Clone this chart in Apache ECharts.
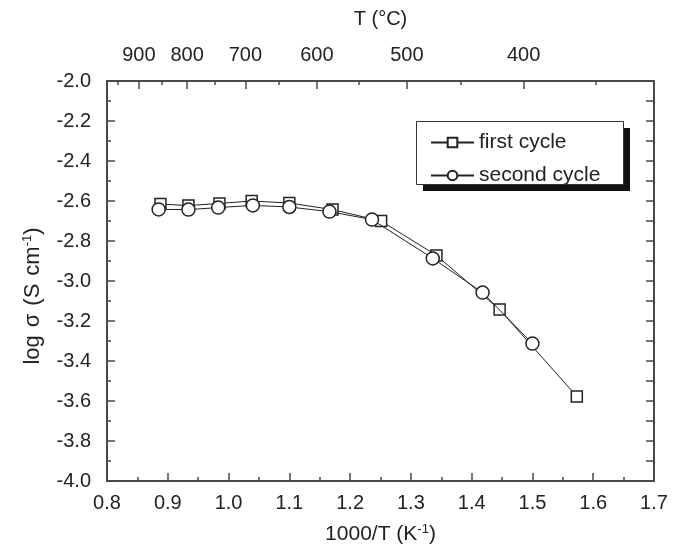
<!DOCTYPE html>
<html>
<head>
<meta charset="utf-8">
<script src="https://cdn.jsdelivr.net/npm/echarts@6/dist/echarts.min.js"></script>
<style>html,body{margin:0;padding:0;background:#fff}#c{width:681px;height:554px}</style>
</head>
<body>
<div id="c"></div>
<script>
// Data
var firstX  = [0.888, 0.934, 0.985, 1.038, 1.100, 1.171, 1.251, 1.342, 1.446, 1.573];
var firstY  = [-2.615, -2.623, -2.612, -2.600, -2.610, -2.643, -2.700, -2.872, -3.143, -3.577];
var secondX = [0.885, 0.934, 0.983, 1.040, 1.100, 1.166, 1.236, 1.336, 1.418, 1.500];
var secondY = [-2.642, -2.643, -2.633, -2.622, -2.630, -2.653, -2.693, -2.887, -3.058, -3.313];
// Top axis (temperature, °C) tick labels and minor ticks
var tempLabels = [900, 800, 700, 600, 500, 400];
var tempMinor  = [950, 900, 850, 800, 750, 700, 650, 600, 550, 500, 450, 400, 350];

function toInv(t){ return 1000 / (t + 273.15); }
function pairs(xs, ys){ return xs.map(function(x,i){ return [x, ys[i]]; }); }

var FONT = "'Liberation Sans', Arial, Helvetica, sans-serif";
var AX = '#4a4a4a';
var TXT = '#222';

var chart = echarts.init(document.getElementById('c'), null, {renderer:'canvas'});
chart.setOption({
  animation: false,
  backgroundColor: '#fff',
  textStyle: {fontFamily: FONT},
  grid: {left: 107, top: 81, width: 547, height: 400, containLabel: false},
  graphic: [
    {type: 'rect', z: 5, shape: {x: 423, y: 128, width: 207, height: 63}, style: {fill: '#111'}},
    {type: 'rect', z: 6, shape: {x: 416.5, y: 121.5, width: 207, height: 63}, style: {fill: '#fff', stroke: '#333', lineWidth: 1}}
  ],
  legend: {
    orient: 'vertical', left: 416, top: 121, z: 10,
    itemWidth: 43, itemHeight: 12, itemGap: 12,
    padding: [11, 0, 0, 14],
    textStyle: {fontSize: 21, color: TXT, fontFamily: FONT, lineHeight: 20},
    data: ['first cycle', 'second cycle']
  },
  xAxis: [
    {
      type: 'value', position: 'bottom', min: 0.8, max: 1.7, interval: 0.1,
      name: '{n|1000/T (K}{s|-1}{n|)}', nameLocation: 'middle', nameGap: 42,
      nameTextStyle: {rich: {n: {fontSize: 21, color: TXT, fontFamily: FONT}, s: {fontSize: 13, color: TXT, fontFamily: FONT, verticalAlign: 'top', padding: [0,0,10,0]}}},
      axisLine: {show: true, lineStyle: {color: AX, width: 2}},
      axisTick: {show: true, inside: true, length: 8, lineStyle: {color: AX, width: 1.5}},
      minorTick: {show: true, splitNumber: 2, length: 4, lineStyle: {color: AX, width: 1.5}},
      axisLabel: {fontSize: 20, color: TXT, margin: 12, fontFamily: FONT, formatter: function(v){ return v.toFixed(1); }},
      splitLine: {show: false}
    },
    {
      type: 'value', position: 'top', min: 0.8, max: 1.7,
      name: 'T (°C)', nameLocation: 'middle', nameGap: 52,
      nameTextStyle: {fontSize: 20, color: TXT, fontFamily: FONT},
      axisLine: {show: true, lineStyle: {color: AX, width: 2}},
      axisTick: {show: true, inside: true, length: 8, customValues: tempLabels.map(toInv), lineStyle: {color: AX, width: 1.5}},
      axisLabel: {show: true, fontSize: 20, color: TXT, margin: 16, fontFamily: FONT, customValues: tempLabels.map(toInv),
        formatter: function(v){ return String(Math.round(1000 / v - 273.15)); }},
      splitLine: {show: false}
    },
    {
      type: 'value', position: 'top', min: 0.8, max: 1.7,
      axisLine: {show: false},
      axisTick: {show: true, inside: true, length: 4, customValues: tempMinor.map(toInv), lineStyle: {color: AX, width: 1.5}},
      axisLabel: {show: false},
      splitLine: {show: false}
    }
  ],
  yAxis: [
    {
      type: 'value', position: 'left', min: -4, max: -2, interval: 0.2,
      name: '{n|log}{g|σ}{p|(S}{n|cm}{s|-1}{n|)}', nameLocation: 'middle', nameGap: 63,
      nameTextStyle: {padding: [0, 30, 0, 0], rich: {
        n: {fontSize: 22, color: TXT, fontFamily: FONT},
        g: {fontSize: 22, color: TXT, fontFamily: FONT, padding: [0, 8, 0, 8]},
        p: {fontSize: 22, color: TXT, fontFamily: FONT, padding: [0, 8, 0, 0]},
        s: {fontSize: 13, color: TXT, fontFamily: FONT, verticalAlign: 'top', padding: [0,0,10,0]}}},
      axisLine: {show: true, lineStyle: {color: AX, width: 2}},
      axisTick: {show: true, inside: true, length: 8, lineStyle: {color: AX, width: 1.5}},
      minorTick: {show: true, splitNumber: 2, length: 4, lineStyle: {color: AX, width: 1.5}},
      axisLabel: {fontSize: 20, color: TXT, margin: 16, fontFamily: FONT, formatter: function(v){ return v.toFixed(1); }},
      splitLine: {show: false}
    },
    {
      type: 'value', position: 'right', min: -4, max: -2, interval: 0.1,
      axisLine: {show: true, lineStyle: {color: AX, width: 2}},
      axisTick: {show: true, inside: true, length: 8, lineStyle: {color: AX, width: 1.5}},
      axisLabel: {show: false},
      splitLine: {show: false}
    }
  ],
  series: [
    {
      name: 'first cycle', type: 'line', xAxisIndex: 0, yAxisIndex: 0,
      data: pairs(firstX, firstY),
      symbol: 'rect', symbolSize: 11,
      lineStyle: {color: '#222', width: 1},
      itemStyle: {color: '#fff', borderColor: '#222', borderWidth: 1.5},
      z: 2
    },
    {
      name: 'second cycle', type: 'line', xAxisIndex: 0, yAxisIndex: 0,
      data: pairs(secondX, secondY),
      symbol: 'circle', symbolSize: 13,
      lineStyle: {color: '#222', width: 1},
      itemStyle: {color: '#fff', borderColor: '#222', borderWidth: 1.5},
      z: 3
    }
  ]
});
</script>
</body>
</html>
